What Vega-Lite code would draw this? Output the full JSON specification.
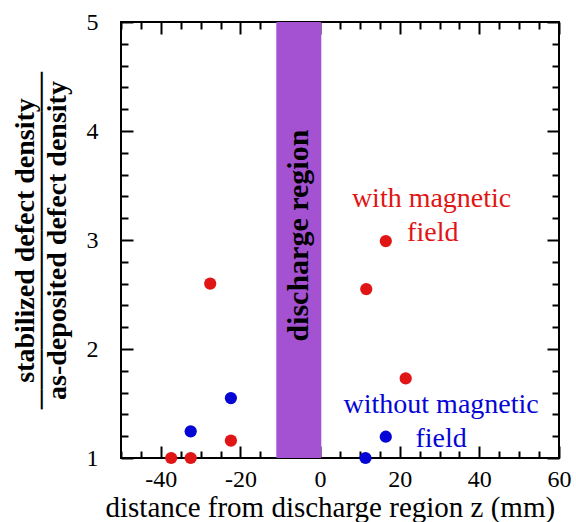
{
  "$schema": "https://vega.github.io/schema/vega-lite/v6.json",
  "width": 438,
  "height": 436,
  "autosize": "none",
  "padding": {"left": 121, "top": 22, "right": 17, "bottom": 64},
  "background": "white",
  "config": {
    "view": {"stroke": "black", "strokeWidth": 2},
    "font": "Liberation Serif",
    "axis": {"domain": false, "tickColor": "black", "tickWidth": 2, "labelColor": "black", "titleColor": "black", "labelFont": "Liberation Serif", "titleFont": "Liberation Serif", "grid": false}
  },
  "datasets": {
    "points": [
      {"z": -37.4, "ratio": 1.0, "series": "with"},
      {"z": -32.5, "ratio": 1.0, "series": "with"},
      {"z": -22.4, "ratio": 1.16, "series": "with"},
      {"z": -27.6, "ratio": 2.6, "series": "with"},
      {"z": 11.6, "ratio": 2.55, "series": "with"},
      {"z": 16.5, "ratio": 2.99, "series": "with"},
      {"z": 21.5, "ratio": 1.73, "series": "with"},
      {"z": -32.5, "ratio": 1.245, "series": "without"},
      {"z": -22.4, "ratio": 1.55, "series": "without"},
      {"z": 11.4, "ratio": 1.0, "series": "without"},
      {"z": 16.5, "ratio": 1.195, "series": "without"}
    ],
    "labels": [
      {"z": 28.0, "ratio": 3.303, "label": "with magnetic", "series": "with"},
      {"z": 28.3, "ratio": 2.994, "label": "field", "series": "with"},
      {"z": 30.4, "ratio": 1.41, "label": "without magnetic", "series": "without"},
      {"z": 30.4, "ratio": 1.098, "label": "field", "series": "without"}
    ],
    "band": [
      {"start": -11, "end": 0.3, "mid": -5.25, "ymid": 3.04, "label": "discharge region"}
    ]
  },
  "layer": [
    {
      "data": {"name": "band"},
      "mark": {"type": "rect", "color": "#a552d2"},
      "encoding": {
        "x": {"field": "start", "type": "quantitative", "scale": {"domain": [-50, 60], "nice": false, "zero": false}, "axis": null},
        "x2": {"field": "end"}
      }
    },
    {
      "data": {"name": "band"},
      "mark": {"type": "text", "angle": 270, "fontWeight": "bold", "fontSize": 30, "align": "center", "baseline": "middle", "color": "black", "font": "Liberation Serif"},
      "encoding": {
        "x": {"field": "mid", "type": "quantitative", "scale": {"domain": [-50, 60], "nice": false, "zero": false}, "axis": null},
        "y": {"field": "ymid", "type": "quantitative", "scale": {"domain": [1, 5], "nice": false, "zero": false}, "axis": null},
        "text": {"field": "label"}
      }
    },
    {
      "data": {"name": "points"},
      "mark": {"type": "circle", "size": 150, "opacity": 1},
      "encoding": {
        "x": {
          "field": "z", "type": "quantitative",
          "scale": {"domain": [-50, 60], "nice": false, "zero": false},
          "axis": {
            "orient": "bottom",
            "values": [-50, -45, -40, -35, -30, -25, -20, -15, -10, -5, 0, 5, 10, 15, 20, 25, 30, 35, 40, 45, 50, 55, 60],
            "tickSize": {"condition": {"test": "datum.value % 20 === 0", "value": -12}, "value": -7},
            "labelExpr": "datum.value % 20 === 0 ? toString(datum.value) : ''",
            "labelFont": "Liberation Serif",
            "labelFontSize": 24,
            "labelPadding": 21,
            "labelFlush": false,
            "labelOverlap": false,
            "title": "distance from discharge region z (mm)",
            "titleFont": "Liberation Serif",
            "titleFontSize": 29,
            "titleFontWeight": "normal",
            "titlePadding": -3,
            "titleAnchor": "start",
            "titleAlign": "left",
            "titleX": -16
          }
        },
        "y": {
          "field": "ratio", "type": "quantitative",
          "scale": {"domain": [1, 5], "nice": false, "zero": false},
          "axis": {
            "orient": "left",
            "values": [1, 1.2, 1.4, 1.6, 1.8, 2, 2.2, 2.4, 2.6, 2.8, 3, 3.2, 3.4, 3.6, 3.8, 4, 4.2, 4.4, 4.6, 4.8, 5],
            "tickSize": {"condition": {"test": "datum.value % 1 === 0", "value": -12}, "value": -7},
            "labelExpr": "datum.value % 1 === 0 ? toString(datum.value) : ''",
            "labelFont": "Liberation Serif",
            "labelFontSize": 24,
            "labelPadding": 35,
            "labelOverlap": false,
            "title": ["stabilized defect density", "─────────────────", "as-deposited defect density"],
            "titleFont": "Liberation Serif",
            "titleFontSize": 28,
            "titleFontWeight": "bold",
            "titleLineHeight": 16,
            "titlePadding": 15
          }
        },
        "color": {"field": "series", "type": "nominal", "scale": {"domain": ["with", "without"], "range": ["#e01515", "#0505d5"]}, "legend": null}
      }
    },
    {
      "data": {"name": "labels"},
      "mark": {"type": "text", "fontSize": 28, "align": "center", "baseline": "alphabetic", "font": "Liberation Serif"},
      "encoding": {
        "x": {
          "field": "z", "type": "quantitative",
          "scale": {"domain": [-50, 60], "nice": false, "zero": false},
          "axis": {
            "orient": "top",
            "values": [-50, -45, -40, -35, -30, -25, -20, -15, -10, -5, 0, 5, 10, 15, 20, 25, 30, 35, 40, 45, 50, 55, 60],
            "tickSize": {"condition": {"test": "datum.value % 20 === 0", "value": -12}, "value": -7},
            "labels": false,
            "title": null
          }
        },
        "y": {
          "field": "ratio", "type": "quantitative",
          "scale": {"domain": [1, 5], "nice": false, "zero": false},
          "axis": {
            "orient": "right",
            "values": [1, 1.2, 1.4, 1.6, 1.8, 2, 2.2, 2.4, 2.6, 2.8, 3, 3.2, 3.4, 3.6, 3.8, 4, 4.2, 4.4, 4.6, 4.8, 5],
            "tickSize": {"condition": {"test": "datum.value % 1 === 0", "value": -12}, "value": -7},
            "labels": false,
            "title": null
          }
        },
        "text": {"field": "label"},
        "color": {"field": "series", "type": "nominal", "scale": {"domain": ["with", "without"], "range": ["#e01515", "#0505d5"]}, "legend": null}
      }
    }
  ],
  "resolve": {"axis": {"x": "independent", "y": "independent"}}
}
